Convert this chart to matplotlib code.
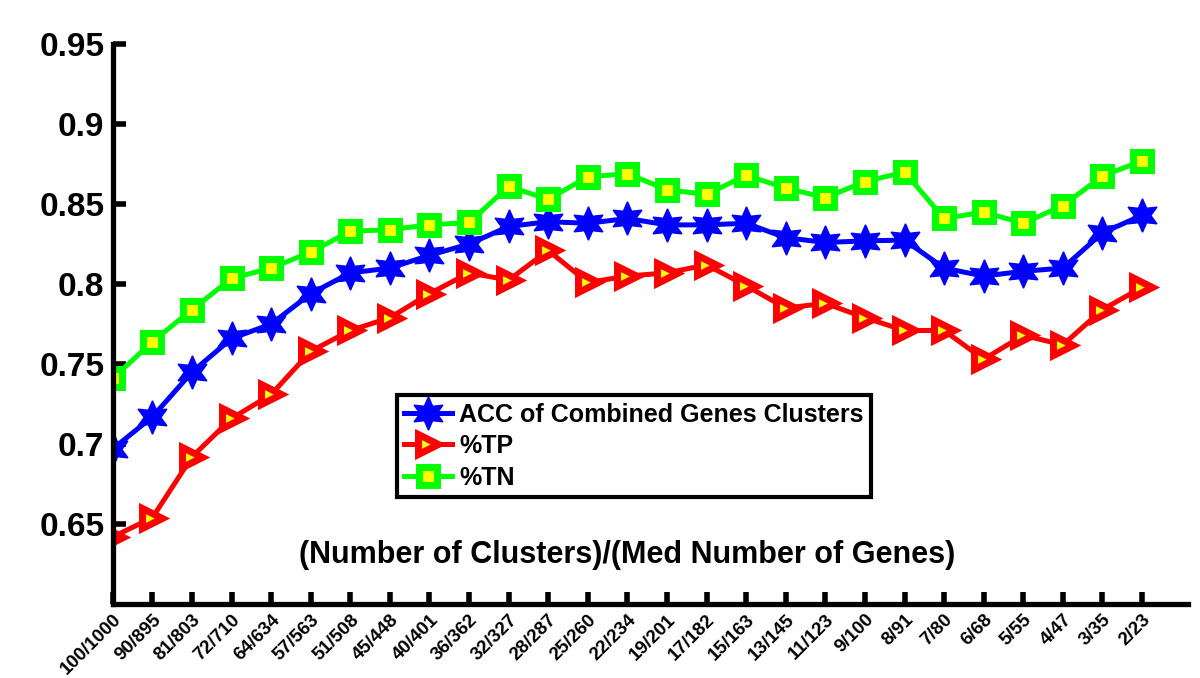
import matplotlib
matplotlib.use("Agg")
import matplotlib.pyplot as plt
import numpy as np

# category labels: (number of clusters)/(median number of genes)
categories = ["100/1000", "90/895", "81/803", "72/710", "64/634", "57/563",
              "51/508", "45/448", "40/401", "36/362", "32/327", "28/287",
              "25/260", "22/234", "19/201", "17/182", "15/163", "13/145",
              "11/123", "9/100", "8/91", "7/80", "6/68", "5/55", "4/47",
              "3/35", "2/23"]

acc = [0.697, 0.717, 0.745, 0.766, 0.775, 0.794, 0.807, 0.810, 0.818,
       0.825, 0.836, 0.839, 0.838, 0.841, 0.837, 0.837, 0.838, 0.829,
       0.826, 0.827, 0.8275, 0.810, 0.805, 0.808, 0.810, 0.832, 0.843]

tp = [0.642, 0.654, 0.692, 0.716, 0.731, 0.758, 0.771, 0.779, 0.794,
      0.807, 0.8025, 0.821, 0.801, 0.805, 0.807, 0.812, 0.799, 0.785,
      0.788, 0.779, 0.771, 0.771, 0.753, 0.768, 0.762, 0.784, 0.798]

tn = [0.741, 0.764, 0.784, 0.8035, 0.810, 0.820, 0.833, 0.834, 0.837,
      0.8385, 0.861, 0.853, 0.867, 0.869, 0.859, 0.856, 0.868, 0.860,
      0.854, 0.864, 0.870, 0.841, 0.845, 0.838, 0.849, 0.8675, 0.877]

yticks = [0.65, 0.7, 0.75, 0.8, 0.85, 0.9, 0.95]
ytick_labels = ["0.65", "0.7", "0.75", "0.8", "0.85", "0.9", "0.95"]

plt.rcParams["font.family"] = ["Liberation Sans", "DejaVu Sans"]
plt.rcParams["font.weight"] = "bold"

fig = plt.figure(figsize=(12, 6.78), dpi=100)
ax = fig.add_axes([0.094, 0.109, 0.896, 0.826])

x = np.arange(len(categories))
lw = 3.6

ax.plot(x, acc, color="#0000ff", lw=lw, marker=(6, 1, 0), ms=24,
        mfc="#0000ff", mec="#0000ff", mew=1,
        label="ACC of Combined Genes Clusters")
ax.plot(x, tp, color="#ff0000", lw=lw, marker=">", ms=15,
        mfc="#ffff00", mec="#ff0000", mew=5, label="%TP")
ax.plot(x, tn, color="#00ff00", lw=lw, marker="s", ms=13,
        mfc="#ffff00", mec="#00ff00", mew=5, label="%TN")

ax.set_xlim(0, 26 + 46 / 39.6)
ax.set_ylim(0.6, 0.95)

ax.set_xticks(x)
ax.set_xticklabels(categories, rotation=45, ha="right", rotation_mode="anchor",
                   fontsize=13.5, fontweight="bold")
ax.set_yticks(yticks)
ax.set_yticklabels(ytick_labels, fontsize=24, fontweight="bold")

ax.tick_params(axis="both", direction="in", length=9, width=4, color="black")
ax.tick_params(axis="x", pad=5)
ax.tick_params(axis="y", pad=6)

for side in ["top", "right"]:
    ax.spines[side].set_visible(False)
for side in ["left", "bottom"]:
    ax.spines[side].set_linewidth(3.8)
    ax.spines[side].set_color("black")

ax.text(0.478, 0.088, "(Number of Clusters)/(Med Number of Genes)",
        transform=ax.transAxes, ha="center", va="center", fontsize=22,
        fontweight="bold")

leg = ax.legend(loc="upper left", bbox_to_anchor=(0.264, 0.373),
                borderaxespad=0, frameon=True, fancybox=False, framealpha=1,
                prop={"size": 18, "weight": "bold"}, handlelength=1.9,
                handletextpad=0.3, labelspacing=0.3, borderpad=0.3)
leg.get_frame().set_edgecolor("black")
leg.get_frame().set_linewidth(3)

fig.savefig("out.png", dpi=100)
